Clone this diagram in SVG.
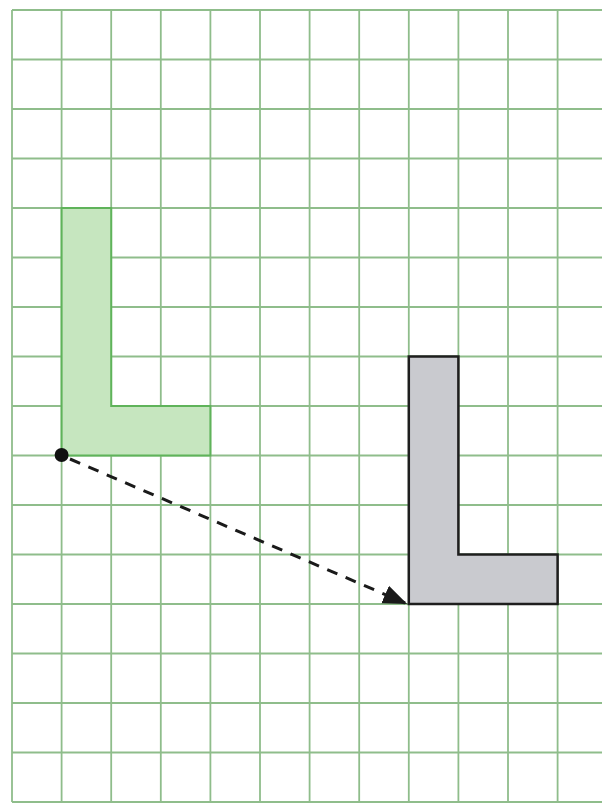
<svg xmlns="http://www.w3.org/2000/svg" width="602" height="806" viewBox="0 0 602 806">
<style>
.grid line{stroke:#8fbd8b;stroke-width:1.8}
.green{fill:#c6e6bf;stroke:#5fb35a;stroke-width:2}
.gray{fill:#c9cacf;stroke:#1e1e1e;stroke-width:2.5}
.conn{stroke:#1a1a1a;stroke-width:3;stroke-dasharray:11 9;fill:none}
</style>
<defs>
<marker id="ah" viewBox="0 0 10 10" refX="9" refY="5" markerWidth="8" markerHeight="8" markerUnits="strokeWidth" orient="auto">
<path d="M0,1 L10,5 L0,9 z" fill="#1a1a1a" stroke="none"/>
</marker>
</defs>
<rect width="602" height="806" fill="#ffffff"/>
<g class="grid">
<line x1="12" y1="10" x2="12" y2="802"/>
<line x1="61.6" y1="10" x2="61.6" y2="802"/>
<line x1="111.2" y1="10" x2="111.2" y2="802"/>
<line x1="160.8" y1="10" x2="160.8" y2="802"/>
<line x1="210.4" y1="10" x2="210.4" y2="802"/>
<line x1="260" y1="10" x2="260" y2="802"/>
<line x1="309.6" y1="10" x2="309.6" y2="802"/>
<line x1="359.2" y1="10" x2="359.2" y2="802"/>
<line x1="408.8" y1="10" x2="408.8" y2="802"/>
<line x1="458.4" y1="10" x2="458.4" y2="802"/>
<line x1="508" y1="10" x2="508" y2="802"/>
<line x1="557.6" y1="10" x2="557.6" y2="802"/>
<line x1="12" y1="10" x2="602" y2="10"/>
<line x1="12" y1="59.5" x2="602" y2="59.5"/>
<line x1="12" y1="109" x2="602" y2="109"/>
<line x1="12" y1="158.5" x2="602" y2="158.5"/>
<line x1="12" y1="208" x2="602" y2="208"/>
<line x1="12" y1="257.5" x2="602" y2="257.5"/>
<line x1="12" y1="307" x2="602" y2="307"/>
<line x1="12" y1="356.5" x2="602" y2="356.5"/>
<line x1="12" y1="406" x2="602" y2="406"/>
<line x1="12" y1="455.5" x2="602" y2="455.5"/>
<line x1="12" y1="505" x2="602" y2="505"/>
<line x1="12" y1="554.5" x2="602" y2="554.5"/>
<line x1="12" y1="604" x2="602" y2="604"/>
<line x1="12" y1="653.5" x2="602" y2="653.5"/>
<line x1="12" y1="703" x2="602" y2="703"/>
<line x1="12" y1="752.5" x2="602" y2="752.5"/>
<line x1="12" y1="802" x2="602" y2="802"/>
</g>
<g id="green-L">
<path class="green" d="M61.6,208 L111.2,208 L111.2,406 L210.4,406 L210.4,455.5 L61.6,455.5 Z"/>
</g>
<g id="gray-L">
<path class="gray" d="M408.8,356.5 L458.4,356.5 L458.4,554.5 L557.6,554.5 L557.6,604 L408.8,604 Z"/>
</g>
<g id="point">
<circle cx="61.6" cy="455" r="7" fill="#111"/>
</g>
<g id="connectors">
<line class="conn" x1="70" y1="459" x2="405" y2="603" marker-end="url(#ah)"/>
</g>
</svg>
